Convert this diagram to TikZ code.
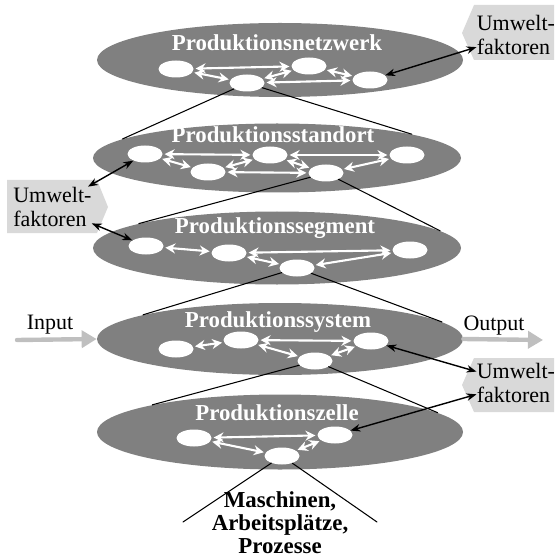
\documentclass[tikz,border=0pt]{standalone}
\usepackage{fontspec}
\setmainfont{Liberation Serif}
\usetikzlibrary{arrows.meta,shapes.geometric}

\begin{document}
\begin{tikzpicture}[>={Stealth[length=2mm]},line cap=round,
  font=\fontsize{12.5}{14}\selectfont,
  plane/.style={ellipse,fill=gray,minimum width=7.32cm,inner sep=0},
  planetitle/.style={text=white,font=\bfseries\fontsize{13}{15}\selectfont},
  cell/.style={ellipse,fill=white,minimum width=0.7cm,minimum height=0.34cm,inner sep=0},
  flow/.style={white,line width=1.2pt,{Stealth[length=2mm,width=2mm]}-{Stealth[length=2mm,width=2mm]},shorten <=1pt,shorten >=1pt},
  envtext/.style={align=left,anchor=west,inner sep=0},
  envbox/.style={fill=black!15},
  envlink/.style={thick,<->},
  zoomline/.style={line width=0.6pt},
  io/.style={gray!50,line width=2.5pt,-{Triangle[length=3mm,width=3.4mm]}}]
\useasboundingbox (0,0) rectangle (11.08,-11.18);
\clip (0,0) rectangle (11.08,-11.18);

\node[plane,minimum height=1.48cm] (net) at (5.60,-1.20) {};
\node[plane,minimum height=1.38cm,minimum width=7.36cm] (std) at (5.54,-3.16) {};
\node[plane,minimum height=1.46cm,minimum width=7.36cm] (seg) at (5.54,-4.96) {};
\node[plane,minimum height=1.44cm] (sys) at (5.60,-6.78) {};
\node[plane,minimum height=1.50cm] (zel) at (5.60,-8.64) {};

\node[planetitle] (netT) at (5.54,-0.86) {Produktionsnetzwerk};
\node[planetitle] (stdT) at (5.46,-2.70) {Produktionsstandort};
\node[planetitle] (segT) at (5.50,-4.56) {Produktionssegment};
\node[planetitle] (sysT) at (5.56,-6.44) {Produktionssystem};
\node[planetitle] (zelT) at (5.54,-8.26) {Produktionszelle};

\node[cell] (net1) at (3.52,-1.38) {};
\node[cell] (net2) at (4.94,-1.66) {};
\node[cell] (net3) at (6.18,-1.32) {};
\node[cell] (net4) at (7.40,-1.60) {};

\node[cell] (std1) at (2.90,-3.08) {};
\node[cell] (std2) at (4.16,-3.44) {};
\node[cell] (std3) at (5.40,-3.10) {};
\node[cell] (std4) at (6.52,-3.46) {};
\node[cell] (std5) at (8.14,-3.10) {};

\node[cell] (seg1) at (2.92,-4.92) {};
\node[cell] (seg2) at (4.58,-5.06) {};
\node[cell] (seg3) at (5.94,-5.36) {};
\node[cell] (seg4) at (8.20,-5.00) {};

\node[cell] (sys1) at (3.52,-6.98) {};
\node[cell] (sys2) at (4.82,-6.80) {};
\node[cell] (sys3) at (6.30,-7.22) {};
\node[cell] (sys4) at (7.42,-6.82) {};

\node[cell] (zel1) at (3.88,-8.76) {};
\node[cell] (zel2) at (5.64,-9.12) {};
\node[cell] (zel3) at (6.70,-8.70) {};

\foreach \a/\b in {net1/net3,net1/net2,net2/net3,net3/net4,net2/net4,
  std1/std3,std1/std2,std2/std3,std2/std4,std3/std4,std3/std5,std4/std5,
  seg1/seg2,seg2/seg4,seg2/seg3,seg3/seg4,
  sys1/sys2,sys2/sys4,sys2/sys3,sys3/sys4,
  zel1/zel3,zel1/zel2,zel2/zel3}
  \draw[flow] (\a) -- (\b);

\coordinate (mL) at (3.66,-10.44);
\coordinate (mR) at (7.54,-10.44);
\draw[zoomline] (net2) -- (std.173);
\draw[zoomline] (net2) -- (std.10);
\draw[zoomline] (std4) -- (seg.170);
\draw[zoomline] (std4) -- (seg.6);
\draw[zoomline] (seg3) -- (sys.170);
\draw[zoomline] (seg3) -- (sys.6);
\draw[zoomline] (sys3) -- (zel.168);
\draw[zoomline] (sys3) -- (zel.7);
\draw[zoomline] (zel2) -- (mL);
\draw[zoomline] (zel2) -- (mR);

\fill[envbox] (0.14,-3.60) -- (1.94,-3.60) -- (2.16,-4.14) -- (1.94,-4.66) -- (0.14,-4.66) -- cycle;
\fill[envbox] (9.24,-0.66) -- (9.48,-0.10) -- (11.3,-0.10) -- (11.3,-1.20) -- (9.48,-1.20) -- cycle;
\fill[envbox] (9.24,-7.70) -- (9.48,-7.16) -- (11.3,-7.16) -- (11.3,-8.24) -- (9.48,-8.24) -- cycle;
\node[envtext] (umL) at (0.26,-4.14) {Umwelt-\\faktoren};
\node[envtext] (umT) at (9.53,-0.70) {Umwelt-\\faktoren};
\node[envtext] (umB) at (9.53,-7.66) {Umwelt-\\faktoren};

\draw[envlink] (umT) -- (net4);
\draw[envlink] (umL) -- (std1);
\draw[envlink] (umL) -- (seg1);
\draw[envlink] (umB) -- (sys4);
\draw[envlink] (umB) -- (zel3);

\coordinate (inS) at (0.34,-6.80);
\coordinate (outE) at (10.86,-6.80);
\draw[io] (inS) -- (sys.west);
\draw[io] (sys.east) -- (outE);
\node (inL) at (1.00,-6.50) {Input};
\node (outL) at (9.88,-6.52) {Output};

\node[align=center,font=\bfseries\fontsize{13}{13}\selectfont] (parts) at (5.60,-10.46) {Maschinen,\\Arbeitsplätze,\\Prozesse};
\end{tikzpicture}
\end{document}
